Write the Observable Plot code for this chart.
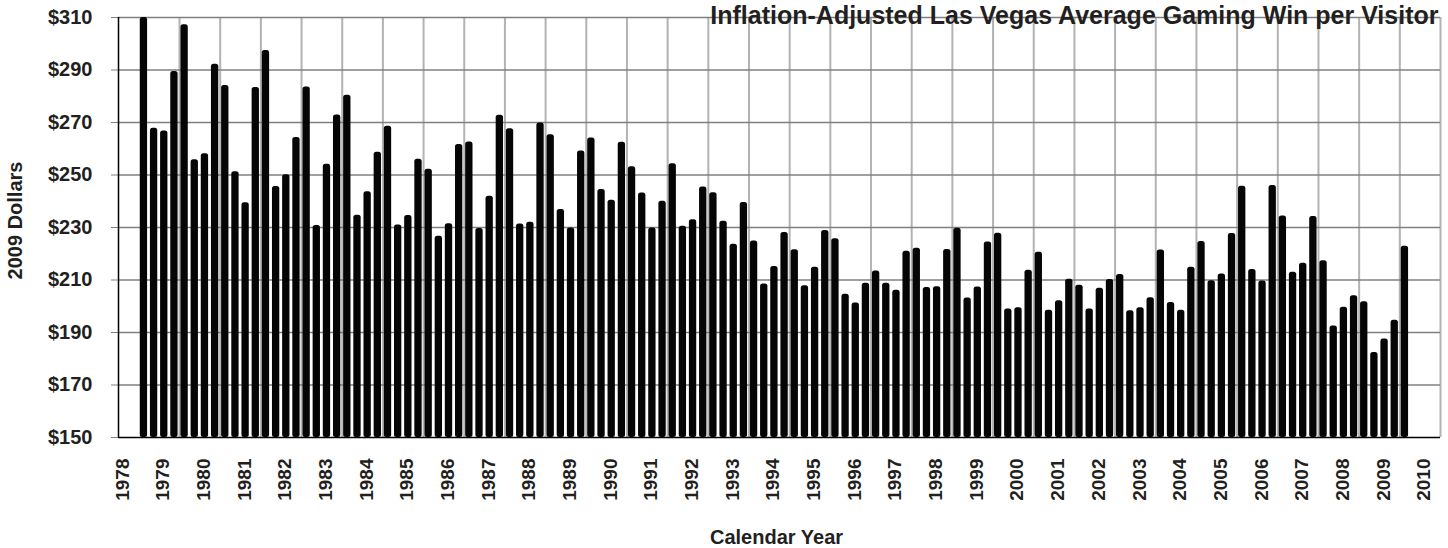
<!DOCTYPE html>
<html>
<head>
<meta charset="utf-8">
<script src="https://cdn.jsdelivr.net/npm/d3@7"></script>
<script src="https://cdn.jsdelivr.net/npm/@observablehq/plot@0.6"></script>
<style>
  html, body { margin: 0; padding: 0; background: #fff; }
  #chart { width: 1448px; height: 548px; overflow: hidden; }
</style>
</head>
<body>
<div id="chart"></div>
<script>
// Quarterly inflation-adjusted win per visitor (2009 dollars), starting 1978 Q3
const firstYear = 1978;
const firstQuarter = 3;
const values1978to1989 = [
  310, 267.8,
  266.8, 289.4, 307.2, 255.8,
  258.1, 292.2, 284.1, 251.2,
  239.4, 283.3, 297.4, 245.6,
  250.1, 264.3, 283.5, 230.8,
  254.1, 272.9, 280.4, 234.7,
  243.6, 258.7, 268.6, 231.0,
  234.6, 256.0, 252.2, 226.7,
  231.4, 261.6, 262.6, 229.6,
  241.9, 272.8, 267.6, 231.3,
  232.0, 269.8, 265.3, 236.9,
  229.8, 259.1, 264.1, 244.5
];
const values1990to1999 = [
  240.4, 262.5, 253.1, 243.1,
  229.8, 240.0, 254.3, 230.5,
  233.0, 245.4, 243.2, 232.4,
  223.6, 239.5, 224.9, 208.5,
  215.1, 228.1, 221.5, 207.8,
  214.9, 228.9, 225.7, 204.6,
  201.2, 208.8, 213.4, 208.8,
  206.1, 221.0, 222.1, 207.1,
  207.4, 221.6, 229.7, 203.1,
  207.3, 224.5, 227.8, 199.0
];
const values2000to2009 = [
  199.4, 213.7, 220.6, 198.5,
  202.1, 210.3, 208.0, 199.0,
  206.9, 210.2, 212.1, 198.3,
  199.4, 203.2, 221.4, 201.4,
  198.5, 214.9, 224.7, 209.7,
  212.3, 227.7, 245.7, 214.0,
  209.6, 246.0, 234.4, 213.0,
  216.4, 234.2, 217.3, 192.5,
  199.6, 204.0, 201.7, 182.4,
  187.5, 194.7, 222.9
];
const yearLabels = d3.range(1978, 2011);
const dollarTicks = [150, 170, 190, 210, 230, 250, 270, 290, 310];
const titleText = "Inflation-Adjusted Las Vegas Average Gaming Win per Visitor";
const xTitle = "Calendar Year";
const yTitle = "2009 Dollars";

const allValues = [...values1978to1989, ...values1990to1999, ...values2000to2009];
const data = allValues.map((v, i) => {
  const q = (firstQuarter - 1) + i;
  const year = firstYear + Math.floor(q / 4);
  const quarter = (q % 4) + 1;
  return {year, quarter, t: year + (quarter - 0.5) / 4, v};
});
const halfW = 0.09;
const font = "'Liberation Sans', Arial, Helvetica, sans-serif";
const ink = "#231f20";

const chart = Plot.plot({
  width: 1448,
  height: 548,
  marginLeft: 118,
  marginRight: 8,
  marginTop: 17,
  marginBottom: 111,
  style: {background: "white", color: ink, fontFamily: font},
  x: {domain: [1978, 2010.5]},
  y: {domain: [150, 310]},
  marks: [
    Plot.ruleX(yearLabels.slice(1).map(y => y + 0.5), {stroke: "#b3b3b3", strokeWidth: 2}),
    Plot.ruleY(dollarTicks.slice(1), {stroke: "#808080", strokeWidth: 1.3}),
    Plot.axisY({ticks: dollarTicks, tickFormat: d => "$" + d, tickSize: 7, tickPadding: 19,
      stroke: "#808080", fontSize: 20, fontWeight: "bold", fontFamily: font, label: null}),
    Plot.rect(data, {x1: d => d.t - halfW, x2: d => d.t + halfW, y1: 150, y2: "v",
      fill: "#050505", rx: 2.5, clip: true}),
    Plot.ruleX([1978], {stroke: "black", strokeWidth: 1.5}),
    Plot.ruleY([150], {stroke: "black", strokeWidth: 1.5}),
    Plot.axisX({ticks: yearLabels, tickFormat: d => String(d), tickRotate: -90, tickSize: 0,
      tickPadding: 21, dx: 4, fontSize: 19, fontWeight: "bold", fontFamily: font, label: null}),
    Plot.text([yTitle], {frameAnchor: "left", textAnchor: "middle", lineAnchor: "middle", rotate: -90,
      dx: -103, dy: -7, fontSize: 20, fontWeight: "bold", fontFamily: font, fill: ink}),
    Plot.text([xTitle], {frameAnchor: "bottom", textAnchor: "middle", lineAnchor: "bottom",
      dx: -3, dy: 106, fontSize: 20, fontWeight: "bold", fontFamily: font, fill: ink}),
    Plot.text([titleText], {frameAnchor: "top-right", textAnchor: "end", lineAnchor: "bottom",
      dx: -2, dy: 6, fontSize: 25, fontWeight: "bold", fontFamily: font, fill: ink})
  ]
});
document.getElementById("chart").appendChild(chart);
</script>
</body>
</html>
